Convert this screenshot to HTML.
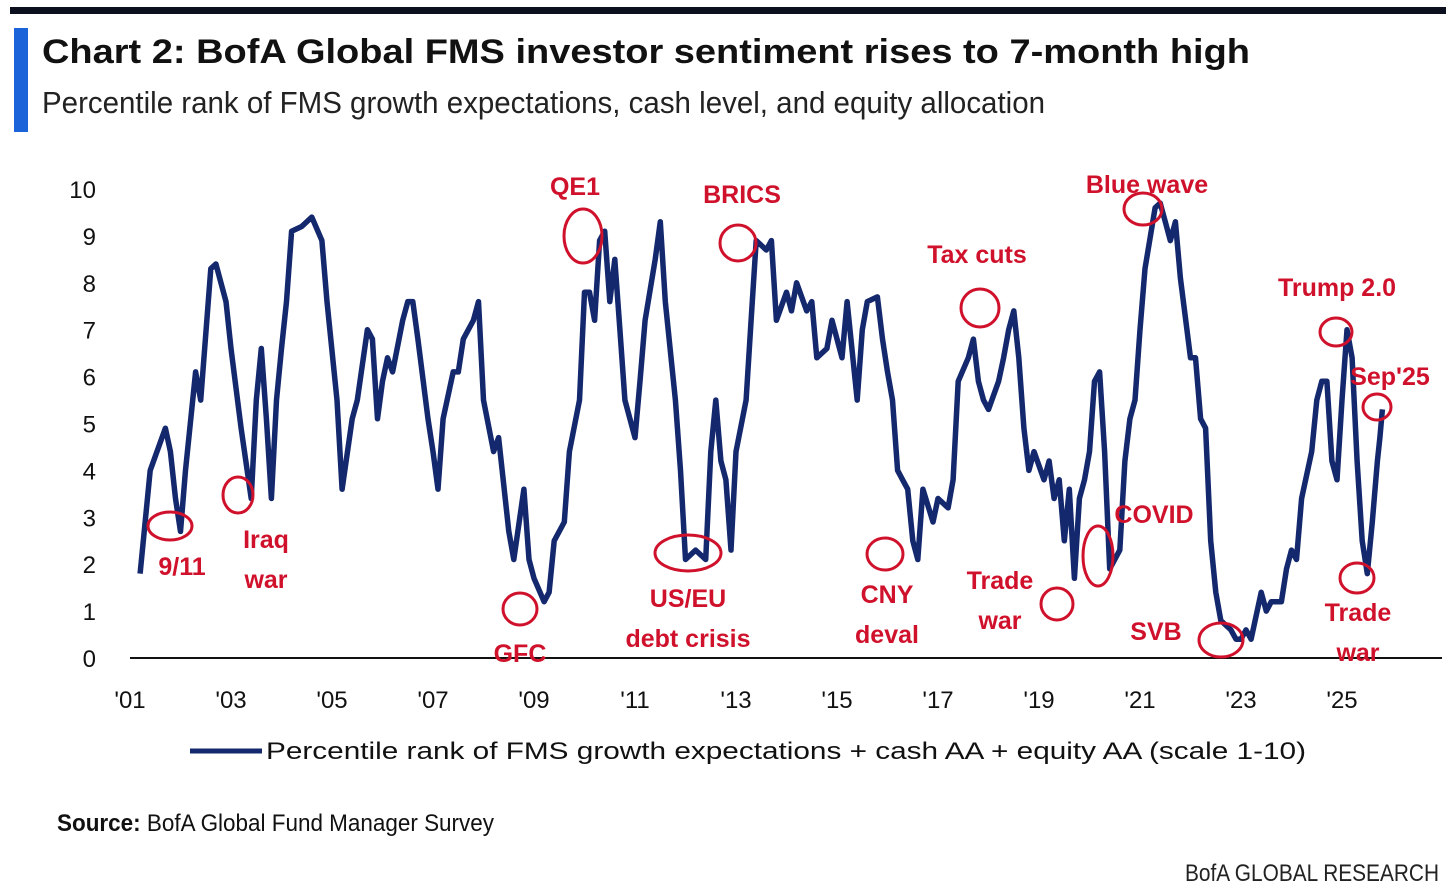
<!DOCTYPE html>
<html><head><meta charset="utf-8">
<style>
body{margin:0;background:#fff;width:1456px;height:894px;overflow:hidden;font-family:"Liberation Sans",sans-serif}
svg{position:absolute;left:0;top:0}
</style></head>
<body>
<svg id="c" width="1456" height="894">
<rect x="10" y="7" width="1436" height="7" fill="#0b0f1e"/>
<rect x="14" y="28" width="14" height="104" fill="#1a63d8"/>
<text x="42" y="63" font-size="34" font-weight="bold" fill="#111" textLength="1208" lengthAdjust="spacingAndGlyphs">Chart 2: BofA Global FMS investor sentiment rises to 7-month high</text>
<text x="42" y="113" font-size="31" fill="#222" textLength="1003" lengthAdjust="spacingAndGlyphs">Percentile rank of FMS growth expectations, cash level, and equity allocation</text>
<g id="axes"></g>
<g id="series"></g>
<g id="ann"></g>
<line x1="190" y1="751" x2="262" y2="751" stroke="#14286e" stroke-width="5"/>
<text x="266" y="759" font-size="24" fill="#111" textLength="1040" lengthAdjust="spacingAndGlyphs">Percentile rank of FMS growth expectations + cash AA + equity AA (scale 1-10)</text>
<text x="57" y="831" font-size="24" fill="#111" textLength="437" lengthAdjust="spacingAndGlyphs"><tspan font-weight="bold">Source:</tspan> BofA Global Fund Manager Survey</text>
<text x="1185" y="881" font-size="24" fill="#222" textLength="254" lengthAdjust="spacingAndGlyphs">BofA GLOBAL RESEARCH</text>
</svg>
<script>
const years=[2001.2,2001.4,2001.6,2001.7,2001.8,2001.9,2002.0,2002.1,2002.3,2002.4,2002.6,2002.7,2002.9,2003.0,2003.2,2003.4,2003.5,2003.6,2003.7,2003.8,2003.9,2004.0,2004.1,2004.2,2004.4,2004.6,2004.8,2004.9,2005.1,2005.2,2005.4,2005.5,2005.7,2005.8,2005.9,2006.0,2006.1,2006.2,2006.4,2006.5,2006.6,2006.7,2006.9,2007.0,2007.1,2007.2,2007.4,2007.5,2007.6,2007.8,2007.9,2008.0,2008.2,2008.3,2008.5,2008.6,2008.8,2008.9,2009.0,2009.2,2009.3,2009.4,2009.6,2009.7,2009.9,2010.0,2010.1,2010.2,2010.3,2010.4,2010.5,2010.6,2010.7,2010.8,2011.0,2011.1,2011.2,2011.4,2011.5,2011.6,2011.8,2011.9,2012.0,2012.2,2012.4,2012.5,2012.6,2012.7,2012.8,2012.9,2013.0,2013.2,2013.3,2013.4,2013.6,2013.7,2013.8,2014.0,2014.1,2014.2,2014.4,2014.5,2014.6,2014.8,2014.9,2015.1,2015.2,2015.4,2015.5,2015.6,2015.8,2015.9,2016.0,2016.1,2016.2,2016.3,2016.4,2016.5,2016.6,2016.7,2016.9,2017.0,2017.2,2017.3,2017.4,2017.6,2017.7,2017.8,2017.9,2018.0,2018.2,2018.3,2018.4,2018.5,2018.6,2018.7,2018.8,2018.9,2019.1,2019.2,2019.3,2019.4,2019.5,2019.6,2019.7,2019.8,2019.9,2020.0,2020.1,2020.2,2020.3,2020.4,2020.6,2020.7,2020.8,2020.9,2021.0,2021.1,2021.3,2021.4,2021.5,2021.6,2021.7,2021.8,2022.0,2022.1,2022.2,2022.3,2022.4,2022.5,2022.6,2022.8,2022.9,2023.0,2023.1,2023.2,2023.4,2023.5,2023.6,2023.8,2023.9,2024.0,2024.1,2024.2,2024.4,2024.5,2024.6,2024.7,2024.8,2024.9,2025.0,2025.1,2025.2,2025.3,2025.4,2025.5,2025.6,2025.7,2025.75,2025.8];
const values=[1.8,4.0,4.6,4.9,4.4,3.4,2.7,4.0,6.1,5.5,8.3,8.4,7.6,6.6,4.9,3.4,5.5,6.6,5.1,3.4,5.5,6.6,7.6,9.1,9.2,9.4,8.9,7.6,5.5,3.6,5.1,5.5,7.0,6.8,5.1,5.9,6.4,6.1,7.2,7.6,7.6,6.8,5.1,4.4,3.6,5.1,6.1,6.1,6.8,7.2,7.6,5.5,4.4,4.7,2.7,2.1,3.6,2.1,1.7,1.2,1.4,2.5,2.9,4.4,5.5,7.8,7.8,7.2,8.9,9.1,7.6,8.5,7.0,5.5,4.7,5.9,7.2,8.5,9.3,7.6,5.5,4.0,2.1,2.3,2.1,4.4,5.5,4.2,3.8,2.3,4.4,5.5,7.2,8.9,8.7,8.9,7.2,7.8,7.4,8.0,7.4,7.6,6.4,6.6,7.2,6.4,7.6,5.5,7.0,7.6,7.7,6.8,6.1,5.5,4.0,3.8,3.6,2.5,2.1,3.6,2.9,3.4,3.2,3.8,5.9,6.4,6.8,5.9,5.5,5.3,5.9,6.4,7.0,7.4,6.4,4.9,4.0,4.4,3.8,4.2,3.4,3.8,2.5,3.6,1.7,3.4,3.8,4.4,5.9,6.1,4.4,1.9,2.3,4.2,5.1,5.5,7.0,8.3,9.6,9.7,9.3,8.9,9.3,8.1,6.4,6.4,5.1,4.9,2.5,1.4,0.8,0.6,0.4,0.4,0.6,0.4,1.4,1.0,1.2,1.2,1.9,2.3,2.1,3.4,4.4,5.5,5.9,5.9,4.2,3.8,5.5,7.0,6.4,4.2,2.5,1.8,2.9,4.2,4.7,5.3];
const yTicks=[0,1,2,3,4,5,6,7,8,9,10];
const xTickYears=[2001,2003,2005,2007,2009,2011,2013,2015,2017,2019,2021,2023,2025];
const xTickLabels=["'01","'03","'05","'07","'09","'11","'13","'15","'17","'19","'21","'23","'25"];
const annLabels=[["9/11"],["Iraq","war"],["GFC"],["QE1"],["BRICS"],["US/EU","debt crisis"],["CNY","deval"],["Tax cuts"],["Trade","war"],["COVID"],["Blue wave"],["SVB"],["Trump 2.0"],["Sep'25"],["Trade","war"]];
const annTextPos=[[182,575],[266,548],[520,662],[575,195],[742,203],[688,607],[887,603],[977,263],[1000,589],[1154,523],[1147,193],[1156,640],[1337,296],[1390,385],[1358,621]];
const annCircles=[[170,526,22,14],[238,495,15,18],[520,609,17,16],[583,236,19,27],[738,243,18,18],[688,553,33,18],[885,554,18,16],[980,308,19,19],[1057,604,16,16],[1098,556,15,30],[1143,209,19,16],[1221,640,22,17],[1336,332,16,14],[1377,407,14,13],[1357,578,17,15]];

const NS="http://www.w3.org/2000/svg";
const X=y=>130+(y-2001)*50.5;
const Y=v=>658-v*46.9;
function mk(t,a,p){const e=document.createElementNS(NS,t);for(const k in a)e.setAttribute(k,a[k]);p.appendChild(e);return e;}
const ax=document.getElementById('axes');
const base=mk('line',{x1:130,y1:Y(0),x2:1442,y2:Y(0),stroke:'#111','stroke-width':2},ax);


yTicks.forEach(t=>{const e=mk('text',{x:96,y:Y(t)+9,'font-size':24,'text-anchor':'end',fill:'#111'},ax);e.textContent=t;

});
xTickYears.forEach((yr,i)=>{const e=mk('text',{x:X(yr),y:708,'font-size':24,'text-anchor':'middle',fill:'#111'},ax);e.textContent=xTickLabels[i];

});
const pts=years.map((y,i)=>X(y).toFixed(1)+','+Y(values[i]).toFixed(1)).join(' ');
const pl=mk('polyline',{points:pts,fill:'none',stroke:'#14286e','stroke-width':5.5,'stroke-linejoin':'round'},document.getElementById('series'));


const an=document.getElementById('ann');
annCircles.forEach((c,i)=>{const e=mk('ellipse',{cx:c[0],cy:c[1],rx:c[2],ry:c[3],fill:'none',stroke:'#d0112b','stroke-width':3},an);


const p=annTextPos[i];
annLabels[i].forEach((s,j)=>{const t=mk('text',{x:p[0],y:p[1]+j*40,'font-size':25,'font-weight':'bold','text-anchor':'middle',fill:'#d0112b'},an);t.textContent=s;

});});
</script>
</body></html>
